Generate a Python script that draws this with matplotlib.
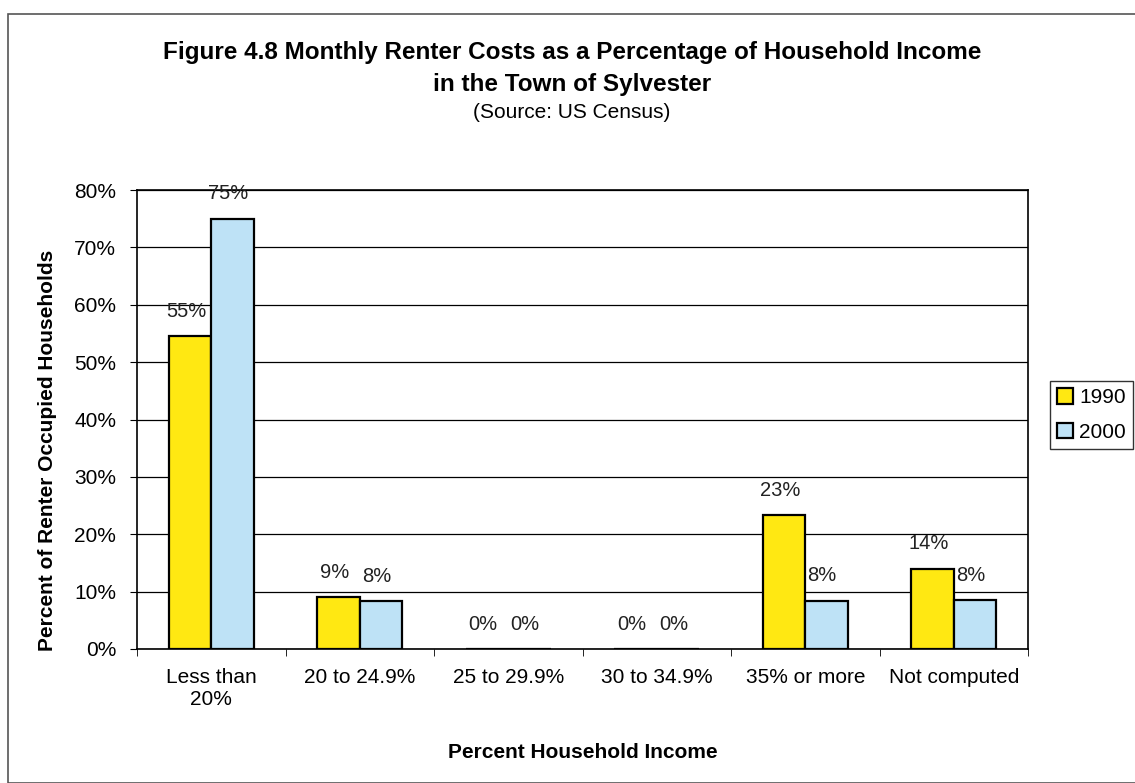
import matplotlib
matplotlib.use("Agg")
import matplotlib.pyplot as plt
from matplotlib.patches import Rectangle
import numpy as np

plt.rcParams['font.family'] = ['Liberation Sans', 'DejaVu Sans']

categories = ["Less than\n20%", "20 to 24.9%", "25 to 29.9%", "30 to 34.9%", "35% or more", "Not computed"]
values_1990 = [54.5, 9, 0, 0, 23.3, 14]
values_2000 = [75, 8.3, 0, 0, 8.4, 8.5]
labels_1990 = ["55%", "9%", "0%", "0%", "23%", "14%"]
labels_2000 = ["75%", "8%", "0%", "0%", "8%", "8%"]
series_names = ["1990", "2000"]
yticks = [0, 10, 20, 30, 40, 50, 60, 70, 80]

c1990 = "#FFE812"
c2000 = "#BEE2F6"
FS = 15

fig = plt.figure(figsize=(11.35, 7.83), dpi=100)
fig.patches.append(Rectangle((8/1135, 0.0), 1.2, 1 - 14/783, transform=fig.transFigure,
                             fill=False, edgecolor="#555555", linewidth=1.2))

ax = fig.add_axes([137/1135, 1 - 649/783, 891/1135, 459/783])
x = np.arange(len(categories))
w = 0.285
b1 = ax.bar(x - w/2, values_1990, w, color=c1990, edgecolor="black", linewidth=1.6, label=series_names[0], zorder=3)
b2 = ax.bar(x + w/2, values_2000, w, color=c2000, edgecolor="black", linewidth=1.6, label=series_names[1], zorder=3)

for rect, lab in zip(b1, labels_1990):
    ax.annotate(lab, (rect.get_x() + rect.get_width()/2, rect.get_height()), xytext=(-3, 18),
                textcoords="offset points", ha="center", va="center", fontsize=14.5, color="#222222")
for rect, lab in zip(b2, labels_2000):
    ax.annotate(lab, (rect.get_x() + rect.get_width()/2, rect.get_height()), xytext=(-3, 18),
                textcoords="offset points", ha="center", va="center", fontsize=14.5, color="#222222")

ax.set_xlim(-0.5, len(categories) - 0.5)
ax.set_ylim(0, 80)
ax.set_yticks(yticks)
ax.set_yticklabels([f"{v}%" for v in yticks], fontsize=FS)
ax.yaxis.grid(True, color="black", linewidth=0.9, zorder=0)
ax.set_xticks(x)
ax.set_xticklabels(categories, fontsize=FS, linespacing=1.2)
ax.tick_params(axis="x", which="major", length=0, pad=14)
ax.set_xticks(np.arange(-0.5, len(categories)), minor=True)
ax.tick_params(axis="x", which="minor", length=5, direction="out")
ax.tick_params(axis="y", length=5, direction="out", pad=10)
for s in ax.spines.values():
    s.set_color("black")
    s.set_linewidth(1.2)

fig.text(48/1135, 1 - 450/783, "Percent of Renter Occupied Households", rotation=90,
         ha="center", va="center", fontsize=FS, fontweight="bold")
ax.set_xlabel("Percent Household Income", fontsize=FS, fontweight="bold", labelpad=24)

tx = 572/1135
fig.text(tx, 1 - 52/783, "Figure 4.8 Monthly Renter Costs as a Percentage of Household Income",
         ha="center", va="center", fontsize=17.5, fontweight="bold")
fig.text(tx, 1 - 84/783, "in the Town of Sylvester", ha="center", va="center", fontsize=17.5, fontweight="bold")
fig.text(tx, 1 - 112/783, "(Source: US Census)", ha="center", va="center", fontsize=15)

leg = fig.legend(handles=[b1, b2], labels=series_names, loc="upper left",
                 bbox_to_anchor=(1050/1135, 1 - 381/783), fontsize=FS, frameon=True,
                 fancybox=False, edgecolor="black", handlelength=0.75, handleheight=0.75,
                 handletextpad=0.3, borderpad=0.35, labelspacing=0.75, borderaxespad=0)
leg.get_frame().set_linewidth(1.0)

fig.savefig("out.png", dpi=100)
